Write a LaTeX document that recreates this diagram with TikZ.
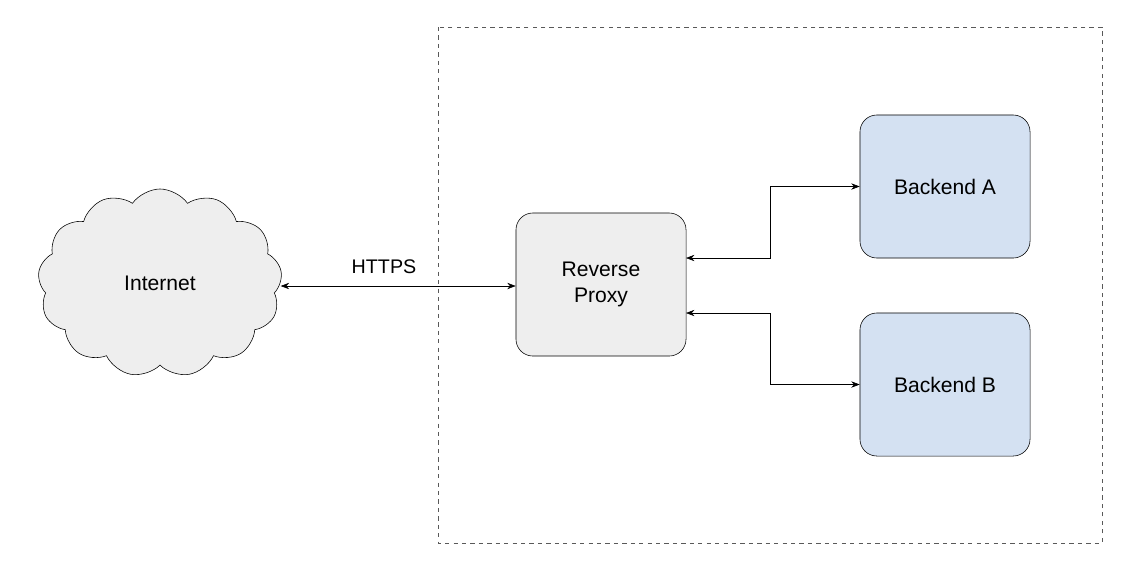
\documentclass[tikz,border=0pt]{standalone}
\usepackage{fontspec}
\setmainfont{Liberation Sans}
\usetikzlibrary{shapes.symbols,arrows.meta}
\definecolor{boxgray}{HTML}{EEEEEE}
\definecolor{boxblue}{HTML}{D4E1F2}
\tikzset{
    box/.style={draw, rounded corners=12pt, minimum width=4.25cm, minimum height=3.575cm, align=center, font=\fontsize{15}{18}\selectfont},
    link/.style={{Stealth[length=6pt]}-{Stealth[length=6pt]}, thin}
}
\begin{document}
\begin{tikzpicture}[x=0.025cm, y=-0.025cm]
            \useasboundingbox (0,0) rectangle (1128,568);

            \draw [dashed, gray!70!black] (438,27) rectangle (1102,543);

            \node[draw, cloud, cloud puffs=13, cloud puff arc=110, aspect=1.3, fill=boxgray,
                  minimum width=6.1cm, minimum height=4.7cm, font=\fontsize{15}{18}\selectfont] (internet) at (160,283) {Internet};

            \node[box, fill=boxgray] (proxy) at (601,284.5) {Reverse\\Proxy};
            \node[box, fill=boxblue] (backa) at (945,186.5) {Backend A};
            \node[box, fill=boxblue] (backb) at (945,384.5) {Backend B};

            \coordinate (pa) at (686,258);
            \coordinate (pb) at (686,313);
            \coordinate (lbl) at (384,267);

            \draw [link] (internet.east |- 0,286) -- (proxy.west |- 0,286);
            \node[font=\fontsize{14}{16}\selectfont] (https) at (lbl) {HTTPS};
            \draw [link] (pa) -| (770,186.5) -- (backa.west);
            \draw [link] (pb) -| (770,384.5) -- (backb.west);

        \end{tikzpicture}
\end{document}
